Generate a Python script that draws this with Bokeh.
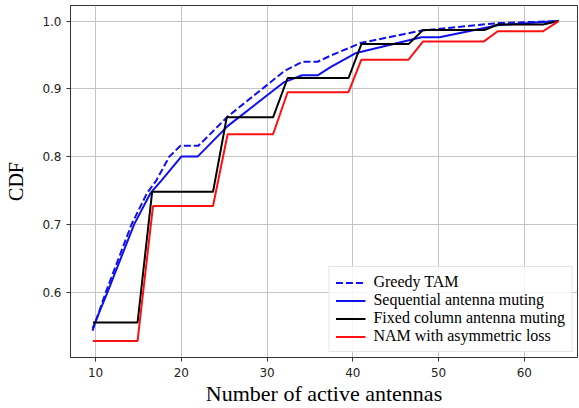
from bokeh.plotting import figure
from bokeh.models import FixedTicker, Range1d, Legend, LegendItem
from bokeh.embed import file_html
from bokeh.resources import INLINE

# Greedy TAM (dashed blue)
greedy_x = [9.65, 11.2, 14.2, 16.0, 17.1, 18.6, 19.9, 22.0, 25.4, 32.0, 34.1, 35.9, 37.4, 41.0, 48.0, 56.9, 64.0]
greedy_y = [0.543, 0.600, 0.700, 0.746, 0.765, 0.800, 0.816, 0.816, 0.859, 0.926, 0.940, 0.940, 0.949, 0.968, 0.986, 0.997, 1.0]

# Sequential antenna muting (solid blue)
seq_x = [9.65, 11.4, 14.5, 16.4, 17.7, 20.0, 21.9, 25.4, 32.0, 34.1, 35.9, 37.4, 40.4, 48.0, 50.1, 56.9, 64.0]
seq_y = [0.546, 0.600, 0.700, 0.746, 0.765, 0.800, 0.800, 0.845, 0.910, 0.920, 0.920, 0.932, 0.953, 0.976, 0.976, 0.994, 1.0]

# Fixed column antenna muting (black)
fixed_x = [9.7, 14.9, 16.6, 23.7, 25.3, 30.7, 32.4, 39.5, 41.0, 46.5, 48.2, 55.4, 56.9, 62.2, 64.0]
fixed_y = [0.555, 0.555, 0.748, 0.748, 0.858, 0.858, 0.916, 0.916, 0.966, 0.966, 0.987, 0.987, 0.995, 0.995, 1.0]

# NAM with asymmetric loss (red)
nam_x = [9.7, 14.9, 16.7, 23.7, 25.4, 30.7, 32.4, 39.5, 41.0, 46.5, 48.2, 55.3, 56.9, 62.2, 64.0]
nam_y = [0.528, 0.528, 0.727, 0.727, 0.833, 0.833, 0.895, 0.895, 0.943, 0.943, 0.970, 0.970, 0.985, 0.985, 1.0]

x_ticks = [10, 20, 30, 40, 50, 60]
y_ticks = [0.6, 0.7, 0.8, 0.9, 1.0]
y_tick_labels = {0.6: "0.6", 0.7: "0.7", 0.8: "0.8", 0.9: "0.9", 1.0: "1.0"}

p = figure(width=579, height=408, output_backend="svg", toolbar_location=None,
           x_range=Range1d(7.08, 66.2), y_range=Range1d(0.5035, 1.023),
           min_border_left=70, min_border_right=2, min_border_top=5, min_border_bottom=46)

p.outline_line_color = "#333333"
p.outline_line_width = 1
p.background_fill_color = "white"
p.border_fill_color = "white"

for ax in (p.xaxis[0], p.yaxis[0]):
    ax.axis_line_color = "#333333"
    ax.major_tick_line_color = "#333333"
    ax.major_tick_out = 4
    ax.major_tick_in = 0
    ax.minor_tick_line_color = None
    ax.major_label_text_font = "DejaVu Sans"
    ax.major_label_text_font_size = "12px"
    ax.major_label_text_color = "#222222"
    ax.axis_label_text_font = "Liberation Serif"
    ax.axis_label_text_font_style = "normal"
    ax.axis_label_text_color = "black"

p.xaxis.axis_label_text_font_size = "22px"
p.yaxis.axis_label_text_font_size = "20px"
p.xaxis.ticker = FixedTicker(ticks=x_ticks)
p.yaxis.ticker = FixedTicker(ticks=y_ticks)
p.yaxis.major_label_overrides = y_tick_labels
p.xaxis.axis_label = "Number of active antennas"
p.yaxis.axis_label = "CDF"
p.xaxis.major_label_standoff = 6
p.yaxis.major_label_standoff = 5
p.xaxis.axis_label_standoff = 1
p.yaxis.axis_label_standoff = 12

p.xgrid.ticker = FixedTicker(ticks=x_ticks)
p.ygrid.ticker = FixedTicker(ticks=y_ticks)
p.grid.grid_line_color = "#c4c4c4"
p.grid.grid_line_width = 1

r1 = p.line(greedy_x, greedy_y, line_color="#1010ee", line_width=2, line_dash="7 3")
r2 = p.line(seq_x, seq_y, line_color="#1010ee", line_width=2)
r3 = p.line(fixed_x, fixed_y, line_color="black", line_width=2)
r4 = p.line(nam_x, nam_y, line_color="#ff1010", line_width=2)

legend = Legend(items=[
    LegendItem(label="Greedy TAM", renderers=[r1]),
    LegendItem(label="Sequential antenna muting", renderers=[r2]),
    LegendItem(label="Fixed column antenna muting", renderers=[r3]),
    LegendItem(label="NAM with asymmetric loss", renderers=[r4]),
], location="bottom_right")
legend.label_text_font = "Liberation Serif"
legend.label_text_font_size = "16px"
legend.label_text_color = "black"
legend.glyph_width = 30
legend.glyph_height = 17
legend.label_height = 17
legend.label_standoff = 8
legend.spacing = 0
legend.padding = 6
legend.margin = 5
legend.border_line_color = "#cccccc"
legend.border_line_width = 1
legend.background_fill_alpha = 0.85
p.add_layout(legend)

open("out.html", "w").write(file_html(p, INLINE))
